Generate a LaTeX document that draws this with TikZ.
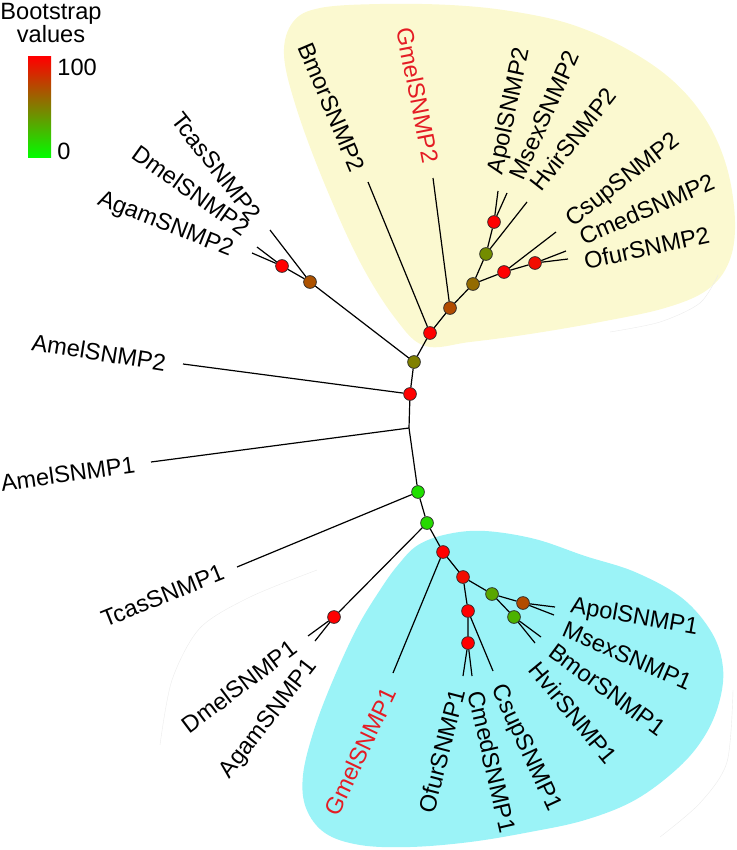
\documentclass[tikz,border=0pt]{standalone}
\usepackage{fontspec}
\setmainfont{Liberation Sans}
\usepackage{xcolor}
\usepackage{tikz}
\definecolor{cladeyellow}{RGB}{251,249,208}
\definecolor{cladecyan}{RGB}{155,243,247}
\definecolor{gmelred}{RGB}{228,28,36}
\tikzset{
  branch/.style={line width=0.6pt},
  boot/.style={circle, draw=black!85, line width=0.35pt, inner sep=0pt, minimum size=6.4pt, fill=red!#1!green},
  taxon/.style={font=\fontsize{11.8}{13}\selectfont, inner xsep=0pt, inner ysep=0pt, text height=8.5pt, text depth=0pt},
  legendtext/.style={font=\fontsize{11.8}{11.6}\selectfont, inner sep=0pt},
}

\begin{document}
\begin{tikzpicture}[x=0.5pt, y=-0.5pt]
    \useasboundingbox (0,0) rectangle (736,850);
    % clades
    \fill[cladeyellow] plot[smooth cycle, tension=0.6] coordinates {
      (425,346) (395,318) (360,262) (325,185) (297,110) (284,55) (293,22) (320,8)
      (380,4) (450,5) (510,11) (570,24) (625,48) (672,80) (706,120) (727,168)
      (735,222) (729,262) (707,290) (665,308) (600,322) (530,334) (470,342)};
    \fill[cladecyan] plot[smooth cycle, tension=0.6] coordinates {
      (398,565) (418,545) (448,534) (485,531) (535,539) (585,556) (635,572) (682,598)
      (712,633) (723,668) (719,703) (704,737) (678,768) (635,800) (585,820) (530,832)
      (470,842) (410,847) (360,845) (325,833) (306,808) (303,775) (314,730) (333,680)
      (357,628) (380,590)};
    \draw[black!8, very thin] plot[smooth] coordinates {(160,745) (172,680) (200,628) (250,597) (317,570)};
    \draw[black!8, very thin] plot[smooth] coordinates {(733,690) (727,762) (700,803) (660,837)};
    \draw[black!8, very thin] plot[smooth] coordinates {(718,275) (700,303) (660,322) (610,332)};

    % legend
    \node[legendtext, align=center, anchor=north] (bstitle) at (51,3) {Bootstrap\\values};
    \node[minimum width=11.5pt, minimum height=50.5pt, inner sep=0pt,
      top color=red, middle color=red!50!green, bottom color=green] (bsbar) at (39.5,107.5) {};
    \node[legendtext, anchor=west, text height=8.5pt, text depth=0pt] (bsmax) at (57,67) {100};
    \node[legendtext, anchor=west, text height=8.5pt, text depth=0pt] (bsmin) at (57,151) {0};

    % inner nodes
    \node[boot=50] (b2) at (414,362) {};
    \node[boot=100] (bro) at (410,394) {};
    \coordinate (jam1) at (409,428);
    \node[boot=12] (b1) at (418,492) {};
    \node[boot=15] (b1b) at (427,523) {};
    \node[boot=100] (c1) at (443,552) {};
    \node[boot=95] (c1a) at (463,577) {};
    \node[boot=35] (c1b) at (492,594) {};
    \node[boot=70] (c1c) at (523,603) {};
    \node[boot=30] (c1d) at (514,617) {};
    \node[boot=100] (c1e) at (468,611) {};
    \node[boot=100] (c1f) at (468,643) {};
    \node[boot=100] (d1) at (334,617) {};
    \node[boot=100] (c2) at (430,333) {};
    \node[boot=70] (c2a) at (450,308) {};
    \node[boot=58] (c2b) at (473,284) {};
    \node[boot=45] (c2c) at (486,254) {};
    \node[boot=100] (c2d) at (494,222) {};
    \node[boot=100] (c2e) at (504,272) {};
    \node[boot=95] (c2f) at (535,263) {};
    \node[boot=68] (d2a) at (310,282) {};
    \node[boot=100] (d2b) at (282,266) {};

    % leaf ends
    \coordinate (lAmel2) at (183,364);
    \coordinate (lAmel1) at (151,462);
    \coordinate (lTcas1) at (237,567);
    \coordinate (lDmel1) at (308,636);
    \coordinate (lAgam1) at (315,641);
    \coordinate (lGmel1) at (393,673);
    \coordinate (lOfur1) at (463,676);
    \coordinate (lCmed1) at (472,676);
    \coordinate (lCsup1) at (493,671);
    \coordinate (lHvir1) at (535,643);
    \coordinate (lBmor1) at (541,637);
    \coordinate (lMsex1) at (554,615);
    \coordinate (lApol1) at (555,607);
    \coordinate (lBmor2) at (368,182);
    \coordinate (lGmel2) at (433,178);
    \coordinate (lApol2) at (498,191);
    \coordinate (lMsex2) at (507,193);
    \coordinate (lHvir2) at (527,202);
    \coordinate (lCsup2) at (556,232);
    \coordinate (lCmed2) at (566,251);
    \coordinate (lOfur2) at (568,259);
    \coordinate (lTcas2) at (270,230);
    \coordinate (lDmel2) at (257,247);
    \coordinate (lAgam2) at (252,253);

    % branches
    \draw[branch] (b2) -- (bro) -- (jam1) -- (b1) -- (b1b) -- (c1) -- (c1a) -- (c1b) -- (c1c);
    \draw[branch] (c1b) -- (c1d);
    \draw[branch] (c1a) -- (c1e) -- (c1f);
    \draw[branch] (b1b) -- (d1);
    \draw[branch] (b2) -- (c2) -- (c2a) -- (c2b) -- (c2c) -- (c2d);
    \draw[branch] (c2b) -- (c2e) -- (c2f);
    \draw[branch] (b2) -- (d2a) -- (d2b);
    \draw[branch] (bro) -- (lAmel2);
    \draw[branch] (jam1) -- (lAmel1);
    \draw[branch] (b1) -- (lTcas1);
    \draw[branch] (d1) -- (lDmel1);
    \draw[branch] (d1) -- (lAgam1);
    \draw[branch] (c1) -- (lGmel1);
    \draw[branch] (c1f) -- (lOfur1);
    \draw[branch] (c1f) -- (lCmed1);
    \draw[branch] (c1e) -- (lCsup1);
    \draw[branch] (c1d) -- (lHvir1);
    \draw[branch] (c1d) -- (lBmor1);
    \draw[branch] (c1c) -- (lMsex1);
    \draw[branch] (c1c) -- (lApol1);
    \draw[branch] (c2) -- (lBmor2);
    \draw[branch] (c2a) -- (lGmel2);
    \draw[branch] (c2d) -- (lApol2);
    \draw[branch] (c2d) -- (lMsex2);
    \draw[branch] (c2c) -- (lHvir2);
    \draw[branch] (c2e) -- (lCsup2);
    \draw[branch] (c2f) -- (lCmed2);
    \draw[branch] (c2f) -- (lOfur2);
    \draw[branch] (d2a) -- (lTcas2);
    \draw[branch] (d2b) -- (lDmel2);
    \draw[branch] (d2b) -- (lAgam2);

    % taxa
    \node[taxon, anchor=east, rotate=-9] (tAmel2) at (166,363) {AmelSNMP2};
    \node[taxon, anchor=east, rotate=8] (tAmel1) at (135,464) {AmelSNMP1};
    \node[taxon, anchor=east, rotate=22] (tTcas1) at (223,571) {TcasSNMP1};
    \node[taxon, anchor=east, rotate=37] (tDmel1) at (294,645) {DmelSNMP1};
    \node[taxon, anchor=east, rotate=52] (tAgam1) at (311,661) {AgamSNMP1};
    \node[taxon, anchor=east, rotate=64.5, text=gmelred] (tGmel1) at (390,689) {GmelSNMP1};
    \node[taxon, anchor=east, rotate=75.5] (tOfur1) at (458,689) {OfurSNMP1};
    \node[taxon, anchor=west, rotate=-77] (tCmed1) at (476,691) {CmedSNMP1};
    \node[taxon, anchor=west, rotate=-65] (tCsup1) at (499,685) {CsupSNMP1};
    \node[taxon, anchor=west, rotate=-50.5] (tHvir1) at (534,665) {HvirSNMP1};
    \node[taxon, anchor=west, rotate=-36.5] (tBmor1) at (552,648) {BmorSNMP1};
    \node[taxon, anchor=west, rotate=-23.5] (tMsex1) at (564,628) {MsexSNMP1};
    \node[taxon, anchor=west, rotate=-10] (tApol1) at (571,604) {ApolSNMP1};
    \node[taxon, anchor=east, rotate=-67] (tBmor2) at (359,171) {BmorSNMP2};
    \node[taxon, anchor=east, rotate=-79] (tGmel2) at (431,163) {\textcolor{gmelred}{GmelSNMP2}};
    \node[taxon, anchor=west, rotate=78] (tApol2) at (494,174) {ApolSNMP2};
    \node[taxon, anchor=west, rotate=66] (tMsex2) at (516,178) {MsexSNMP2};
    \node[taxon, anchor=west, rotate=52] (tHvir2) at (535,188) {HvirSNMP2};
    \node[taxon, anchor=west, rotate=38] (tCsup2) at (568,221) {CsupSNMP2};
    \node[taxon, anchor=west, rotate=23.5] (tCmed2) at (580,238) {CmedSNMP2};
    \node[taxon, anchor=west, rotate=12] (tOfur2) at (584,261) {OfurSNMP2};
    \node[taxon, anchor=east, rotate=-52] (tTcas2) at (257,218) {TcasSNMP2};
    \node[taxon, anchor=east, rotate=-35.5] (tDmel2) at (247,230) {DmelSNMP2};
    \node[taxon, anchor=east, rotate=-21.5] (tAgam2) at (233,249) {AgamSNMP2};
\end{tikzpicture}
\end{document}
